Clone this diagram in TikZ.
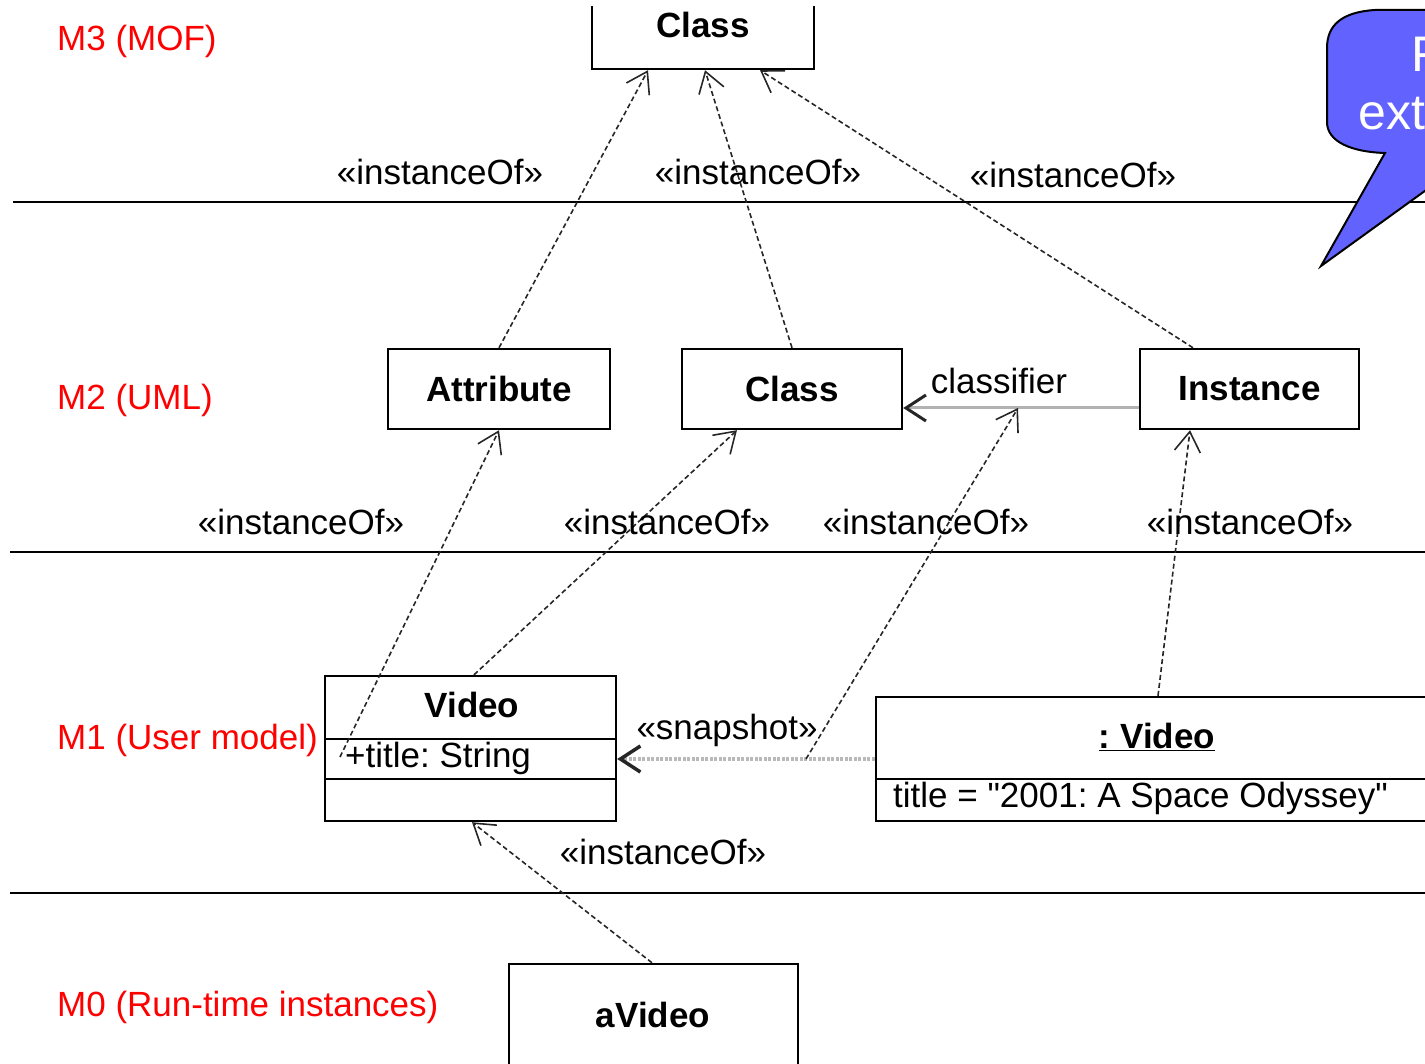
\documentclass[tikz,border=0pt]{standalone}
\usepackage{fontspec}
\setmainfont{Liberation Sans}
\usetikzlibrary{arrows.meta,calc}
\definecolor{levelred}{RGB}{255,0,0}
\definecolor{calloutblue}{RGB}{98,98,255}
\frenchspacing
\begin{document}
\begin{tikzpicture}[x=1pt,y=-1pt,
  lbl/.style={font=\fontsize{35}{40}\selectfont, inner sep=0pt},
  level/.style={lbl, text=levelred, anchor=west},
  umlbox/.style={draw, fill=white, line width=2.4pt, inner sep=0pt,
    font=\fontsize{35}{40}\selectfont\bfseries},
  vtip/.style={-{Straight Barb[length=20pt,width=26pt,color=black!85]}},
  dep/.style={draw=black!85, line width=1.6pt, dash pattern=on 5pt off 3pt, vtip},
  sep/.style={line width=2.4pt},
]
\useasboundingbox (0,0) rectangle (1425,1064);
\clip (0,0) rectangle (1425,1064);

% level separators
\draw[sep] (13,202) -- (1425,202);
\draw[sep] (10,552) -- (1425,552);
\draw[sep] (10,893) -- (1425,893);

% speech-bubble note in the corner
\filldraw[fill=calloutblue, draw=black, line width=2pt]
  (1385,153) -- (1321,266) -- (1440,180) -- (1440,10) -- (1375,10)
  .. controls (1342,12) and (1327,25) .. (1327,48) -- (1327,122)
  .. controls (1327,142) and (1352,152) .. (1385,153) -- cycle;
\node[anchor=base west, text=white, font=\fontsize{50}{56}\selectfont, inner sep=0pt]
  (noteA) at (1411,72) {F};
\node[anchor=base west, text=white, font=\fontsize{50}{56}\selectfont, inner sep=0pt]
  (noteB) at (1358,130) {ext};

% M3 (box continues above the top edge)
\node[umlbox, minimum width=222pt, minimum height=89pt] (mof) at (703,24.5) {Class};
\fill[white] (585,-5) rectangle (821,6);

% M2
\node[umlbox, minimum width=222pt, minimum height=80pt] (attr) at (499,389) {Attribute};
\node[umlbox, minimum width=220pt, minimum height=80pt] (cls) at (792,389) {Class};
\node[umlbox, minimum width=219pt, minimum height=80pt] (inst) at (1249.5,389) {Instance};

% M1: class Video
\node[umlbox, minimum width=291pt, minimum height=145pt] (video) at (470.5,748.5) {};
\node[lbl, font=\fontsize{35}{40}\selectfont\bfseries] (vname) at (472,705) {Video};
\node[lbl, anchor=base west] (vattr) at (345,767) {+title: String};

% M1: object :Video
\node[umlbox, minimum width=569pt, minimum height=124pt] (vobj) at (1160.5,759) {};
\node[lbl, anchor=base, font=\fontsize{35}{40}\selectfont\bfseries] (oname) at (1157,748) {\underline{: Video}};
\node[lbl, anchor=base west] (oslot) at (893,807) {title = \textquotedbl 2001: A Space Odyssey\textquotedbl};

% M0
\node[umlbox, minimum width=289pt, minimum height=116pt] (avid) at (653.5,1022) {};
\node[lbl, font=\fontsize{35}{40}\selectfont\bfseries] (avname) at (653,1015) {aVideo};

% level names
\node[level] (lm3) at (57,41) {M3 (MOF)};
\node[level] (lm2) at (57,400) {M2 (UML)};
\node[level, fill=white, inner ysep=6pt, inner xsep=4pt, xshift=-4pt] (lm1) at (57,740) {M1 (User model)};
\node[level] (lm0) at (57,1007) {M0 (Run-time instances)};

% compartment dividers
\draw[line width=2.4pt] (video.west |- 0,739) -- (video.east |- 0,739);
\draw[line width=2.4pt] (video.west |- 0,779) -- (video.east |- 0,779);
\draw[line width=2.4pt] (vobj.west |- 0,779) -- (vobj.east |- 0,779);

% classifier association
\coordinate (instc) at ([yshift=-19pt]inst.west);
\draw[gray!60, line width=3pt, vtip] (instc) -- (cls.east |- instc);
\coordinate (clsmid) at (1018,408);
\node[lbl] (lclassifier) at (999,381) {classifier};

% snapshot dependency
\draw[gray!55, line width=3.5pt, dash pattern=on 3pt off 1.5pt, vtip]
  (vobj.west) -- (video.east |- vobj.west);
\coordinate (snapmid) at (806,759);
\node[lbl] (lsnap) at (727,730) {«snapshot»};

% instanceOf dependencies
\draw[dep] (attr.north) -- ([xshift=-55pt]mof.south);
\draw[dep] (cls.north) -- ([xshift=2pt]mof.south);
\draw[dep] ([xshift=-56.5pt]inst.north) -- ([xshift=57pt]mof.south);
\draw[dep] ([xshift=3.5pt]video.north) -- ([xshift=-55pt]cls.south);
\coordinate (attrpt) at (340,757);
\draw[dep] (attrpt) -- (attr.south);
\draw[dep] (snapmid) -- (clsmid);
\draw[dep] ([xshift=-2.5pt]vobj.north) -- ([xshift=-59.5pt]inst.south);
\draw[dep] ([xshift=-1.5pt]avid.north) -- ([xshift=1.5pt]video.south);

% stereotype labels
\node[lbl] (i1) at (440,172) {«instanceOf»};
\node[lbl] (i2) at (758,172) {«instanceOf»};
\node[lbl] (i3) at (1073,175) {«instanceOf»};
\node[lbl] (i4) at (301,522) {«instanceOf»};
\node[lbl] (i5) at (667,522) {«instanceOf»};
\node[lbl] (i6) at (926,522) {«instanceOf»};
\node[lbl] (i7) at (1250,522) {«instanceOf»};
\node[lbl] (i8) at (663,852) {«instanceOf»};
\end{tikzpicture}
\end{document}
